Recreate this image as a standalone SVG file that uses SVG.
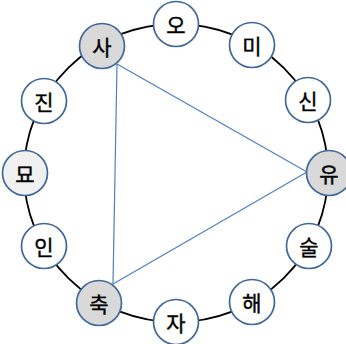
<svg xmlns="http://www.w3.org/2000/svg" width="346" height="344" viewBox="0 0 346 344">
<style>
.n{stroke:#41689a;stroke-width:1.7;fill:#ffffff}
.g{fill:#d9d9d9}
.l{fill:#f0f0f0}
.t{font-family:"Noto Sans CJK KR","Noto Sans",sans-serif;font-size:21px;fill:#000;stroke:#000;stroke-width:0.4;text-anchor:middle;dominant-baseline:central}
.c{fill:none;stroke:#4f81bd;stroke-width:1.2}
</style>
<rect width="346" height="344" fill="#fff"/>
<g id="connectors">
<ellipse cx="176" cy="173" rx="152" ry="149" fill="none" stroke="#000" stroke-width="1.8"/>
<line class="c" x1="117" y1="64" x2="307" y2="172"/>
<line class="c" x1="117" y1="64" x2="113" y2="284"/>
<line class="c" x1="113" y1="284" x2="307" y2="172"/>
</g>
<g id="n-o"><circle class="n" cx="176" cy="24" r="22.5"/><text class="t" x="176" y="24">오</text></g>
<g id="n-mi"><circle class="n" cx="252" cy="45" r="22.5"/><text class="t" x="252" y="45">미</text></g>
<g id="n-sin"><circle class="n" cx="308" cy="100" r="22.5"/><text class="t" x="308" y="100">신</text></g>
<g id="n-yu"><circle class="n g" cx="329" cy="173" r="22.5"/><text class="t" x="329" y="173">유</text></g>
<g id="n-sul"><circle class="n" cx="309" cy="246" r="22.5"/><text class="t" x="309" y="246">술</text></g>
<g id="n-hae"><circle class="n" cx="252" cy="302" r="22.5"/><text class="t" x="252" y="302">해</text></g>
<g id="n-ja"><circle class="n" cx="176" cy="322" r="22.5"/><text class="t" x="176" y="322">자</text></g>
<g id="n-chuk"><circle class="n g" cx="99" cy="303" r="22.5"/><text class="t" x="99" y="303">축</text></g>
<g id="n-in"><circle class="n" cx="44" cy="246" r="22.5"/><text class="t" x="44" y="246">인</text></g>
<g id="n-myo"><circle class="n l" cx="25" cy="173" r="22.5"/><text class="t" x="25" y="173">묘</text></g>
<g id="n-jin"><circle class="n" cx="44" cy="101" r="22.5"/><text class="t" x="44" y="101">진</text></g>
<g id="n-sa"><circle class="n g" cx="102" cy="46" r="22.5"/><text class="t" x="102" y="46">사</text></g>
</svg>
